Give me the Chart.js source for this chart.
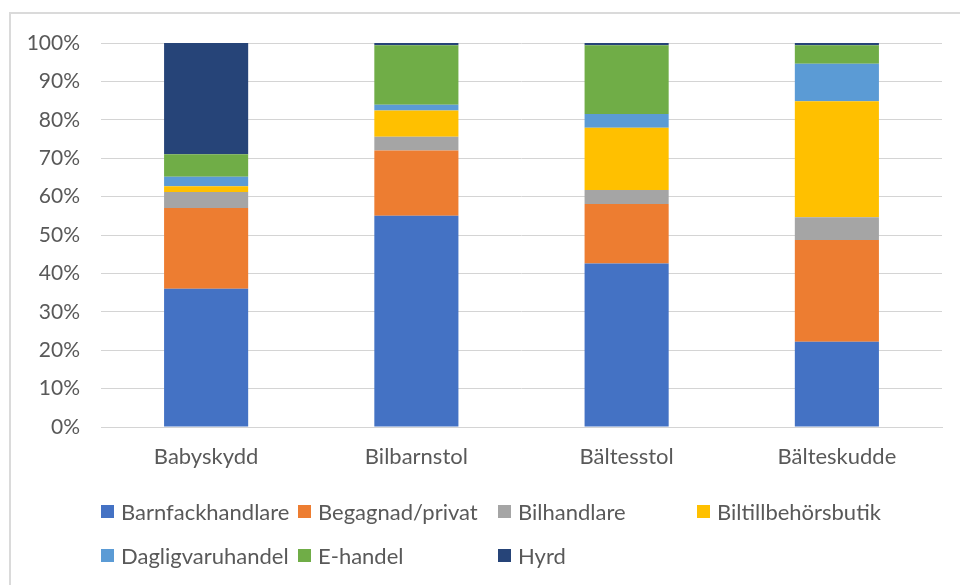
<!DOCTYPE html>
<html>
<head>
<meta charset="utf-8">
<script src="https://cdn.jsdelivr.net/npm/chart.js@4/dist/chart.umd.min.js"></script>
<style>
  html, body { margin: 0; padding: 0; background: #fff; overflow: hidden; }
  #wrap { position: relative; width: 960px; height: 585px; }
  #frame { position: absolute; left: 9px; top: 12px; width: 1200px; height: 1200px; border: 2px solid #dadada; box-sizing: border-box; }
  canvas { position: absolute; left: 0; top: 0; }
  .lg { position: absolute; font-family: Lato, sans-serif; font-size: 22px; color: #595959; white-space: nowrap; line-height: 24px; }
  .lg span.box { position: absolute; left: 0; top: 5px; width: 13px; height: 13px; }
  .lg span.txt { position: absolute; left: 20px; top: 0; }
</style>
</head>
<body>
<div id="wrap">
  <div id="frame"></div>
  <canvas id="c" width="960" height="585"></canvas>
  <div id="legend"></div>
</div>
<script>
const categories = ["Babyskydd", "Bilbarnstol", "Bältesstol", "Bälteskudde"];
const seriesNames = ["Barnfackhandlare", "Begagnad/privat", "Bilhandlare", "Biltillbehörsbutik", "Dagligvaruhandel", "E-handel", "Hyrd"];
const barnfackhandlare   = [36.0, 55.0, 42.6, 22.2];
const begagnadPrivat     = [21.0, 17.0, 15.5, 26.5];
const bilhandlare        = [4.2, 3.6, 3.6, 5.9];
const biltillbehorsbutik = [1.5, 6.8, 16.2, 30.2];
const dagligvaruhandel   = [2.5, 1.5, 3.6, 9.8];
const eHandel            = [5.8, 15.5, 17.9, 4.8];
const hyrd               = [29.0, 0.6, 0.6, 0.6];
const yTicks = [0, 10, 20, 30, 40, 50, 60, 70, 80, 90, 100];

const seriesValues = [barnfackhandlare, begagnadPrivat, bilhandlare, biltillbehorsbutik, dagligvaruhandel, eHandel, hyrd];
const colors = ["#4472C4", "#ED7D31", "#A5A5A5", "#FFC000", "#5B9BD5", "#70AD47", "#264478"];

const FONT = "Lato, sans-serif";
const TXT = "#595959";

const datasets = seriesNames.map((n, i) => ({
  label: n,
  data: seriesValues[i],
  backgroundColor: colors[i],
  borderWidth: 0,
  barPercentage: 0.4,
  categoryPercentage: 1.0
}));

const chart = new Chart(document.getElementById("c"), {
  type: "bar",
  data: { labels: categories, datasets },
  options: {
    responsive: false,
    animation: false,
    layout: { padding: { left: 0, top: 43, right: 18, bottom: 0 } },
    plugins: { legend: { display: false }, tooltip: { enabled: false } },
    scales: {
      x: {
        stacked: true,
        grid: { display: false, drawTicks: false },
        border: { display: true, color: "#d4d4d4", width: 1 },
        ticks: { color: TXT, font: { family: FONT, size: 22 }, padding: 17, maxRotation: 0 },
        afterFit: (s) => { s.height = 158; }
      },
      y: {
        stacked: true,
        min: 0, max: 100,
        afterBuildTicks: (s) => { s.ticks = yTicks.map(v => ({ value: v })); },
        grid: { color: "#d4d4d4", lineWidth: 1, drawTicks: false },
        border: { display: false },
        ticks: { color: TXT, font: { family: FONT, size: 21 }, padding: 21, callback: (v) => v + "%" },
        afterFit: (s) => { s.width = 101; }
      }
    }
  }
});

// HTML legend built from the chart datasets
const legend = document.getElementById("legend");
const colX = [101, 298, 498, 697];
const rowY = [500, 544];
chart.data.datasets.forEach((ds, i) => {
  const d = document.createElement("div");
  d.className = "lg";
  d.style.left = colX[i % 4] + "px";
  d.style.top = rowY[Math.floor(i / 4)] + "px";
  const b = document.createElement("span");
  b.className = "box";
  b.style.background = ds.backgroundColor;
  const t = document.createElement("span");
  t.className = "txt";
  t.textContent = ds.label;
  d.appendChild(b); d.appendChild(t);
  legend.appendChild(d);
});
</script>
</body>
</html>
